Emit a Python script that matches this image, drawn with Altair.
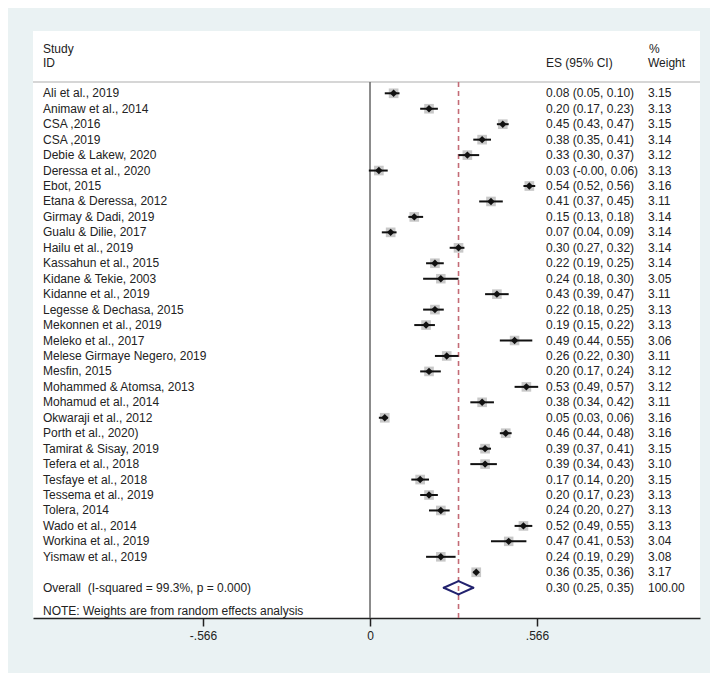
import altair as alt
import pandas as pd

# ---- data ----
studies = ["Ali et al., 2019", "Animaw et al., 2014", "CSA ,2016", "CSA ,2019",
           "Debie & Lakew, 2020", "Deressa et al., 2020", "Ebot, 2015",
           "Etana & Deressa, 2012", "Girmay & Dadi, 2019", "Gualu & Dilie, 2017",
           "Hailu et al., 2019", "Kassahun et al., 2015", "Kidane & Tekie, 2003",
           "Kidanne et al., 2019", "Legesse & Dechasa, 2015", "Mekonnen et al., 2019",
           "Meleko et al., 2017", "Melese Girmaye Negero, 2019", "Mesfin, 2015",
           "Mohammed & Atomsa, 2013", "Mohamud et al., 2014", "Okwaraji et al., 2012",
           "Porth et al., 2020)", "Tamirat & Sisay, 2019", "Tefera et al., 2018",
           "Tesfaye et al., 2018", "Tessema et al., 2019", "Tolera, 2014",
           "Wado et al., 2014", "Workina et al., 2019", "Yismaw et al., 2019", ""]
es = [0.08, 0.20, 0.45, 0.38, 0.33, 0.03, 0.54, 0.41, 0.15, 0.07, 0.30, 0.22, 0.24,
      0.43, 0.22, 0.19, 0.49, 0.26, 0.20, 0.53, 0.38, 0.05, 0.46, 0.39, 0.39, 0.17,
      0.20, 0.24, 0.52, 0.47, 0.24, 0.36]
lo = [0.05, 0.17, 0.43, 0.35, 0.30, -0.004, 0.52, 0.37, 0.13, 0.04, 0.27, 0.19, 0.18,
      0.39, 0.18, 0.15, 0.44, 0.22, 0.17, 0.49, 0.34, 0.03, 0.44, 0.37, 0.34, 0.14,
      0.17, 0.20, 0.49, 0.41, 0.19, 0.35]
hi = [0.10, 0.23, 0.47, 0.41, 0.37, 0.06, 0.56, 0.45, 0.18, 0.09, 0.32, 0.25, 0.30,
      0.47, 0.25, 0.22, 0.55, 0.30, 0.24, 0.57, 0.42, 0.06, 0.48, 0.41, 0.43, 0.20,
      0.23, 0.27, 0.55, 0.53, 0.29, 0.36]
weights = [3.15, 3.13, 3.15, 3.14, 3.12, 3.13, 3.16, 3.11, 3.14, 3.14, 3.14, 3.14, 3.05,
           3.11, 3.13, 3.13, 3.06, 3.11, 3.12, 3.12, 3.11, 3.16, 3.16, 3.15, 3.10, 3.15,
           3.13, 3.13, 3.13, 3.04, 3.08, 3.17]

overall_es, overall_lo, overall_hi, overall_w = 0.30, 0.25, 0.35, 100.00
overall_label = "Overall\u00a0 (I-squared = 99.3%, p = 0.000)"
note_label = "NOTE: Weights are from random effects analysis"

tick_values = [-0.566, 0, 0.566]
tick_labels = ["-.566", "0", ".566"]

# ---- tables ----
n = len(studies)
df = pd.DataFrame({
    "study": studies, "es": es, "lo": lo, "hi": hi, "weight": weights,
    "row": list(range(n)),
})
df["es_txt"] = [f"{e:.2f} ({l:.2f}, {h:.2f})" for e, l, h in zip(es, lo, hi)]
df["w_txt"] = [f"{w:.2f}" for w in weights]

overall_row = n
ov = pd.DataFrame({
    "label": [overall_label], "es": [overall_es], "row": [overall_row],
    "es_txt": [f"{overall_es:.2f} ({overall_lo:.2f}, {overall_hi:.2f})"],
    "w_txt": [f"{overall_w:.2f}"],
})
half = 0.43
vx = [overall_lo, overall_es, overall_hi, overall_es]
vy = [overall_row, overall_row - half, overall_row, overall_row + half]
diamond = pd.DataFrame({
    "x1": vx, "y1": vy,
    "x2": vx[1:] + vx[:1], "y2": vy[1:] + vy[:1],
})

W, H = 667, 587
FONT = "Liberation Sans"
FS = 12
TXT = "#222222"

xscale = alt.Scale(domain=[-1.1422, 1.1184], nice=False, zero=False)
yscale = alt.Scale(domain=[-4.032, 33.96], reverse=True, nice=False, zero=False)

label_expr = " : ".join(
    f"abs(datum.value - ({v})) < 1e-6 ? '{t}'" for v, t in zip(tick_values[:-1], tick_labels[:-1])
) + f" : '{tick_labels[-1]}'"

X = lambda f: alt.X(f, scale=xscale, axis=alt.Axis(values=tick_values, labelExpr=label_expr,
                                                     title=None, grid=False))
Y = lambda f: alt.Y(f, scale=yscale, axis=None)

one = pd.DataFrame({"zero": [0.0], "ov": [overall_es]})

header_line = alt.Chart(one).mark_rule(color="#c8c8c8", strokeWidth=1.5).encode(
    x=alt.value(0), x2=alt.value(W), y=alt.value(51))

zero_line = alt.Chart(one).mark_rule(color="#666666", strokeWidth=1.5).encode(
    x=X("zero:Q"), y=alt.value(51), y2=alt.value(H))

ov_line = alt.Chart(one).mark_rule(color="#c46b76", strokeWidth=1.6,
                                   strokeDash=[5, 4]).encode(
    x=X("ov:Q"), y=alt.value(51), y2=alt.value(H))

boxes = alt.Chart(df).mark_square(color="#c8c8c8", opacity=1).encode(
    x=X("es:Q"), y=Y("row:Q"),
    size=alt.Size("weight:Q", scale=alt.Scale(domain=[0, 3.2], range=[0, 95]), legend=None))

ci = alt.Chart(df).mark_rule(color="#111111", strokeWidth=2).encode(
    x=X("lo:Q"), x2="hi:Q", y=Y("row:Q"))

pts = alt.Chart(df).mark_point(shape="diamond", filled=True, color="#111111",
                               size=55, opacity=1).encode(
    x=X("es:Q"), y=Y("row:Q"))

diam = alt.Chart(diamond).mark_rule(color="#22226e", strokeWidth=2,
                                    strokeCap="round").encode(
    x=X("x1:Q"), x2="x2:Q", y=Y("y1:Q"), y2="y2:Q")

def txt(data, field, xpos):
    return alt.Chart(data).mark_text(align="left", baseline="middle", font=FONT,
                                     fontSize=FS, color=TXT).encode(
        x=alt.value(xpos), y=Y("row:Q"), text=f"{field}:N")

study_txt = txt(df, "study", 10)
es_txt = txt(df, "es_txt", 513)
w_txt = txt(df, "w_txt", 615)
ov_lab = txt(ov, "label", 10)
ov_es = txt(ov, "es_txt", 513)
ov_w = txt(ov, "w_txt", 615)

def fixed(text, xpos, ypos):
    return alt.Chart(one).mark_text(align="left", baseline="middle", font=FONT,
                                    fontSize=FS, color=TXT, text=text).encode(
        x=alt.value(xpos), y=alt.value(ypos))

headers = [
    fixed("Study", 10, 17.5), fixed("ID", 10, 31.5),
    fixed("ES (95% CI)", 513, 31.5),
    fixed("%", 616, 17.5), fixed("Weight", 615, 31.5),
    fixed(note_label, 10, 579.5),
]

chart = alt.layer(
    header_line, zero_line, ov_line, boxes, ci, pts, diam,
    study_txt, es_txt, w_txt, ov_lab, ov_es, ov_w, *headers
).properties(
    width=W, height=H,
    padding={"left": 25, "top": 23, "right": 10, "bottom": 55},
    autosize=alt.AutoSizeParams(type="none"),
    background="#eaf2f3",
).configure_view(
    fill="white", stroke=None
).configure_axis(
    domainColor="#222222", domainWidth=1.5, tickColor="#222222", tickWidth=1.5,
    tickSize=8, labelPadding=4, labelFont=FONT, labelFontSize=FS, labelColor="#222222",
)

chart.save("out.html", embed_options={"renderer": "svg", "actions": False})
